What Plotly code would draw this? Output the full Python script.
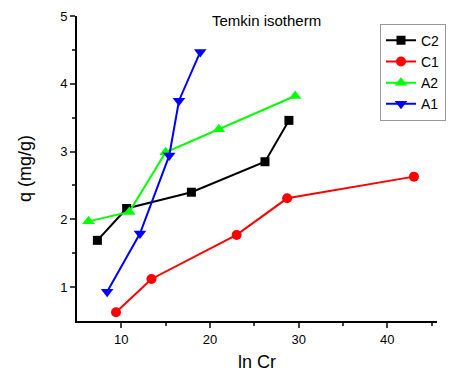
import plotly.graph_objects as go

c2_x = [7.3, 10.6, 17.9, 26.2, 28.9]
c2_y = [1.69, 2.16, 2.40, 2.85, 3.46]
c1_x = [9.4, 13.4, 23.0, 28.7, 43.0]
c1_y = [0.63, 1.12, 1.77, 2.31, 2.63]
a2_x = [6.3, 10.9, 15.0, 21.0, 29.6]
a2_y = [1.97, 2.11, 2.99, 3.33, 3.82]
a1_x = [8.4, 12.1, 15.4, 16.5, 18.9]
a1_y = [0.93, 1.79, 2.94, 3.75, 4.47]

series = [
    ("C2", c2_x, c2_y, "black", "square", 9),
    ("C1", c1_x, c1_y, "red", "circle", 10),
    ("A2", a2_x, a2_y, "#00ff00", "triangle-up", 11),
    ("A1", a1_x, a1_y, "blue", "triangle-down", 11),
]

fig = go.Figure()
for name, xs, ys, col, sym, sz in series:
    fig.add_trace(go.Scatter(x=xs, y=ys, name=name, mode="lines+markers",
                             line=dict(color=col, width=2),
                             marker=dict(color=col, symbol=sym, size=sz)))

fig.update_layout(
    width=449, height=374,
    margin=dict(l=77, r=12, t=16, b=53, autoexpand=False),
    plot_bgcolor="white", paper_bgcolor="white",
    font=dict(family="Liberation Sans, Arial", color="black"),
    showlegend=True,
    legend=dict(x=1.025, y=0.975, xanchor="right", yanchor="top",
                bordercolor="#999", borderwidth=1, bgcolor="white",
                font=dict(size=14), itemwidth=30, tracegroupgap=0),
    annotations=[dict(text="Temkin isotherm", x=0.525, y=0.985, xref="paper", yref="paper",
                      xanchor="center", yanchor="middle", showarrow=False,
                      font=dict(size=15))],
)
fig.update_xaxes(range=[5, 45.6], showline=True, linecolor="black", linewidth=2,
                 ticks="outside", tickwidth=2, ticklen=5, tickvals=[10, 20, 30, 40],
                 minor=dict(ticks="outside", tickvals=[15, 25, 35, 45], ticklen=3, tickwidth=2),
                 showgrid=False, zeroline=False, tickfont=dict(size=13), automargin=False,
                 title=dict(text="ln Cr", font=dict(size=18), standoff=10))
fig.update_yaxes(range=[0.5, 5], showline=True, linecolor="black", linewidth=2,
                 ticks="outside", tickwidth=2, ticklen=5, tickvals=[1, 2, 3, 4, 5],
                 minor=dict(ticks="outside", tickvals=[1.5, 2.5, 3.5, 4.5], ticklen=3, tickwidth=2),
                 showgrid=False, zeroline=False, tickfont=dict(size=13), automargin=False,
                 title=dict(text="q (mg/g)", font=dict(size=18), standoff=24))

fig.write_html("out.html")
